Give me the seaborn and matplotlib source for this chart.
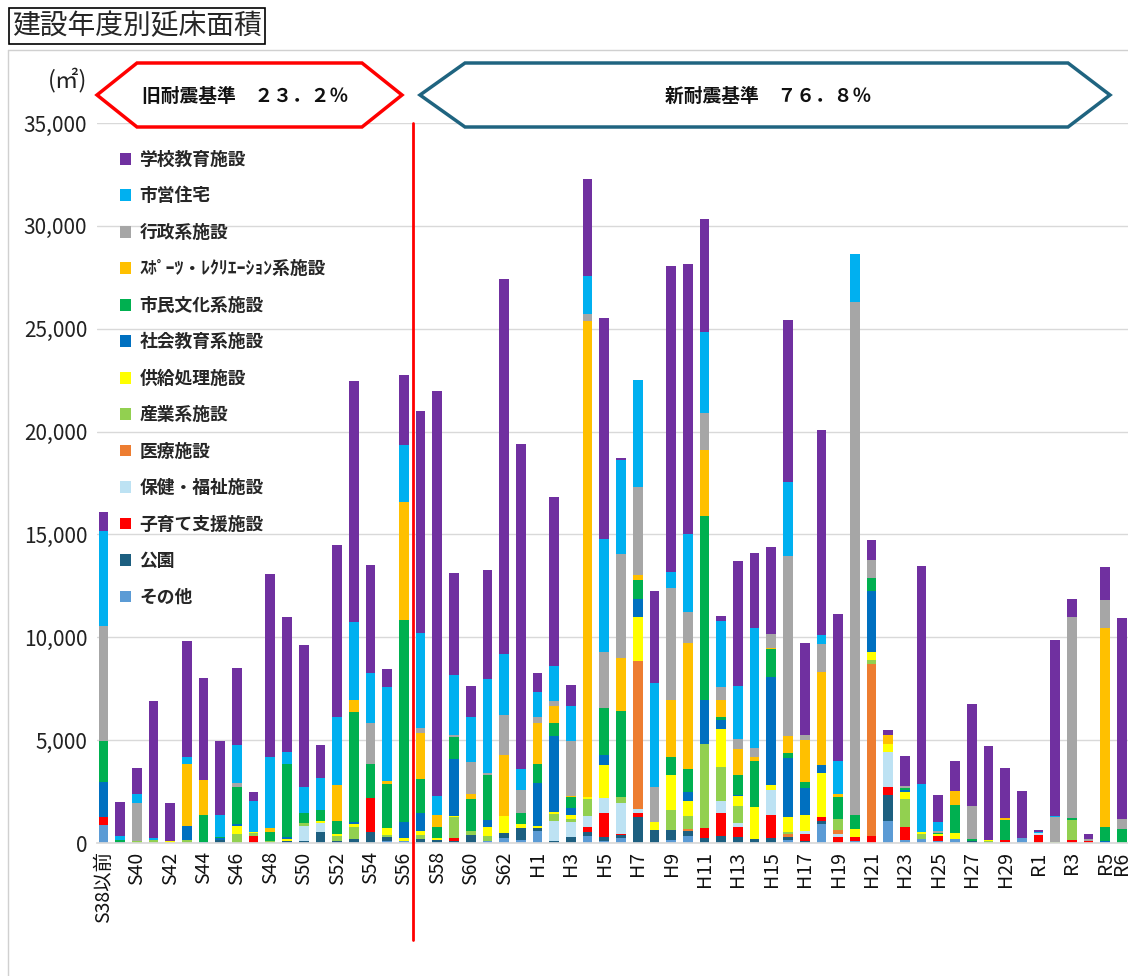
import matplotlib
matplotlib.use("Agg")
import matplotlib.pyplot as plt
from matplotlib.patches import Polygon, Patch
from matplotlib.lines import Line2D
from matplotlib.ticker import FuncFormatter
import seaborn as sns
import pandas as pd

years = ["S38以前", "S39", "S40", "S41", "S42", "S43", "S44", "S45", "S46", "S47",
         "S48", "S49", "S50", "S51", "S52", "S53", "S54", "S55", "S56", "S57",
         "S58", "S59", "S60", "S61", "S62", "S63", "H1", "H2", "H3", "H4",
         "H5", "H6", "H7", "H8", "H9", "H10", "H11", "H12", "H13", "H14",
         "H15", "H16", "H17", "H18", "H19", "H20", "H21", "H22", "H23", "H24",
         "H25", "H26", "H27", "H28", "H29", "H30", "R1", "R2", "R3", "R4",
         "R5", "R6"]

oth = [870,0,0,0,0,0,0,0,0,0, 0,0,0,0,0,0,0,80,100,0, 0,0,0,80,240,150,600,0,0,360,
       100,230,0,0,150,360,0,0,0,0, 0,150,0,920,0,100,0,1090,150,180, 100,190,0,0,60,230,0,0,0,0, 0,0]
park = [0,60,0,0,0,0,0,150,0,0, 0,100,100,520,80,200,550,200,0,190, 150,100,400,0,270,570,110,100,300,160,
        200,160,1250,630,500,210,240,360,310,200, 240,150,100,130,0,0,0,1250,0,0, 0,0,110,0,0,0,0,0,0,0, 0,0]
kid = [400,0,0,0,0,0,0,0,0,340, 0,0,0,0,0,0,1620,0,0,0, 0,160,0,0,0,0,0,0,0,240,
       1150,50,190,0,0,0,490,1080,450,0, 1120,0,360,190,270,200,320,370,615,0, 245,0,0,0,80,0,390,0,150,110, 0,0]
welf = [0,0,0,0,0,0,0,0,0,0, 0,0,730,470,0,0,0,0,0,0, 0,0,0,0,0,0,0,990,700,570,
        760,1490,210,0,0,0,0,610,210,0, 1210,0,110,0,160,0,0,1700,0,0, 0,0,0,0,0,0,80,0,0,0, 0,0]
med = [0,0,0,0,0,0,0,0,0,0, 0,0,0,0,0,0,0,0,0,0, 0,0,0,0,0,0,0,0,0,0,
       0,0,7200,0,0,110,0,0,0,0, 0,160,0,0,190,0,8400,0,0,0, 0,0,0,0,0,0,0,0,0,0, 0,0]
ind = [0,0,80,130,0,130,0,0,440,130, 110,0,130,0,280,570,0,110,0,190, 0,1000,200,280,0,0,0,310,160,810,
       0,290,0,0,940,650,4080,1650,840,0, 0,80,0,0,530,0,180,0,1375,275, 0,0,0,80,0,0,0,30,950,0, 0,0]
sup = [0,0,0,0,110,0,0,0,370,80, 0,110,0,100,80,130,0,320,150,210, 80,60,0,400,810,210,100,130,200,80,
       1570,0,2140,400,1700,730,0,1830,480,1570, 260,730,810,2140,0,370,390,400,325,80, 80,275,0,60,0,0,0,0,0,0, 0,0]
soc = [1700,0,0,0,0,700,65,100,110,0, 0,60,0,0,0,110,0,0,780,890, 0,2750,0,360,0,0,2090,3670,360,0,
       500,0,890,0,0,400,2150,470,50,0, 5260,2860,1310,420,0,0,2960,0,110,0, 0,0,0,0,0,0,0,0,0,0, 110,0]
cul = [1970,80,0,0,0,0,1300,65,1780,0, 440,3560,490,490,620,5370,1670,2180,9820,1650,
       530,1100,1540,2200,0,520,940,650,500,0, 2270,4210,890,0,890,1130,8930,130,950,2230,
       1330,240,275,0,1100,700,650,0,100,0, 80,1375,80,0,1000,0,0,0,100,0, 650,680]
spo = [0,0,0,0,0,3030,1710,0,0,0, 180,0,0,0,1780,580,0,110,5720,2230, 600,0,240,0,2960,0,1980,830,80,23150,
       0,2540,240,0,2750,6120,3220,825,1260,160, 50,810,2020,4530,110,0,0,440,0,0, 0,695,0,0,80,0,0,0,0,0, 9700,0]
adm = [5600,0,1860,0,0,0,0,0,240,0, 0,0,0,0,0,0,1970,0,0,240, 0,80,1540,80,1940,1130,290,200,2650,340,
       2740,5060,4290,1700,5470,1520,1770,630,485,450, 680,8790,275,1330,0,24920,855,0,110,0,
       80,0,1620,0,0,0,0,1210,9800,80, 1330,485]
hou = [4640,210,450,130,0,320,0,1040,1830,1500, 3430,570,1260,1590,3300,3800,2440,4580,2800,4600,
       920,2910,2220,4560,2990,1020,1210,1700,1700,1860, 5500,4580,5200,5060,760,3800,3940,3200,2590,5860,
       0,3560,0,440,1650,2360,0,0,0,2310, 450,0,0,0,0,0,80,80,0,0, 0,0]
sch = [890,1620,1260,6650,1850,5620,4940,3620,3740,450, 8900,6570,6900,1570,8330,11680,5260,890,3370,10820,
       19680,4950,1510,5290,18220,15800,950,8220,1020,4720, 10730,100,0,4440,14900,13100,5510,250,6070,3610,
       4250,7880,4465,9980,7140,0,955,240,1425,10600, 1280,1460,4935,4560,2440,2280,80,8530,880,240, 1630,9790]

# stacking order bottom -> top
layers = [
    ("その他", oth, "#5B9BD5"),
    ("公園", park, "#1D5F80"),
    ("子育て支援施設", kid, "#FF0000"),
    ("保健・福祉施設", welf, "#BDE2F3"),
    ("医療施設", med, "#ED7D31"),
    ("産業系施設", ind, "#92D050"),
    ("供給処理施設", sup, "#FFFF00"),
    ("社会教育系施設", soc, "#0070C0"),
    ("市民文化系施設", cul, "#00B050"),
    ("ｽﾎﾟｰﾂ・ﾚｸﾘｴｰｼｮﾝ系施設", spo, "#FFC000"),
    ("行政系施設", adm, "#A6A6A6"),
    ("市営住宅", hou, "#00B0F0"),
    ("学校教育施設", sch, "#7030A0"),
]

sns.set_theme(style="white")
plt.rcParams["font.family"] = ["Noto Sans CJK JP", "DejaVu Sans"]

W, H = 1128, 976
fig = plt.figure(figsize=(W / 100, H / 100), dpi=100)
fig.patch.set_facecolor("white")


def px(x, y):
    return (x / W, 1 - y / H)


ax = fig.add_axes([97 / W, 1 - 843 / H, (W - 97) / W, (843 - 123) / H])

cum = [0] * len(years)
cums = []
for name, vals, col in layers:
    cum = [c + v for c, v in zip(cum, vals)]
    cums.append((name, list(cum), col))

# draw from the tallest cumulative downwards so each layer shows its segment
for name, cvals, col in reversed(cums):
    d = pd.DataFrame({"year": years, "value": cvals})
    sns.barplot(data=d, x="year", y="value", order=years, color=col,
                saturation=1, width=0.58, linewidth=0, errorbar=None, ax=ax)

ax.set_xlim(-0.38, 61.36)
ax.set_ylim(0, 35000)
ax.set_yticks(range(0, 35001, 5000))
ax.yaxis.set_major_formatter(FuncFormatter(lambda v, p: f"{int(v):,}"))
ax.grid(axis="y", color="#D9D9D9", linewidth=1)
ax.grid(axis="x", visible=False)
ax.set_axisbelow(True)
for s in ["left", "right", "top"]:
    ax.spines[s].set_visible(False)
ax.spines["bottom"].set_color("#D9D9D9")
ax.set_xlabel("")
ax.set_ylabel("")
ax.tick_params(axis="y", length=0, pad=7, labelsize=15, labelcolor="#222222")
ticks_idx = list(range(0, 61, 2)) + [61]
ax.set_xticks(ticks_idx)
ax.set_xticklabels([years[i] for i in ticks_idx], rotation=90, fontsize=14,
                   va="top", ha="center")
ax.tick_params(axis="x", length=0, pad=6, labelcolor="#111111")

# divider line between old / new seismic standards
ax.plot([18.55, 18.55], [35000, -4700], color="#FF0000", linewidth=2,
        clip_on=False, zorder=5)

# legend
handles = [Patch(facecolor=col, edgecolor="none") for name, vals, col in reversed(layers)]
labels = [name for name, vals, col in reversed(layers)]
fig.legend(handles, labels, loc="upper left", bbox_to_anchor=px(111, 142),
           bbox_transform=fig.transFigure, frameon=False, borderpad=0,
           handlelength=0.65, handleheight=0.65, handletextpad=0.45,
           labelspacing=1.04, prop={"size": 12.8, "weight": "bold"})

# outer frame (top and left edges visible)
fig.add_artist(Line2D([8 / W, 1.0], [1 - 50 / H, 1 - 50 / H], transform=fig.transFigure,
                      color="#D0D0D0", linewidth=1))
fig.add_artist(Line2D([8 / W, 8 / W], [1 - 50 / H, 0.0], transform=fig.transFigure,
                      color="#D0D0D0", linewidth=1))

# title
fig.text(*px(12, 26), "建設年度別延床面積", fontsize=20, va="center", ha="left",
         bbox=dict(boxstyle="square,pad=0.12", facecolor="white",
                   edgecolor="black", linewidth=1.2))

# unit
fig.text(*px(68, 80), "(㎡)", fontsize=17, va="center", ha="center", color="#222222")

# banner shapes
red_pts = [px(97, 95), px(137, 63), px(362, 63), px(402, 95), px(362, 127), px(137, 127)]
fig.add_artist(Polygon(red_pts, closed=True, transform=fig.transFigure,
                       facecolor="white", edgecolor="#FF0000", linewidth=2.5))
fig.text(*px(245, 96), "旧耐震基準　２３．２％", fontsize=13.5, weight="bold",
         ha="center", va="center", color="#111111")

blue_pts = [px(420, 95), px(465, 63), px(1068, 63), px(1110, 95), px(1068, 127), px(465, 127)]
fig.add_artist(Polygon(blue_pts, closed=True, transform=fig.transFigure,
                       facecolor="white", edgecolor="#1F6480", linewidth=2.5))
fig.text(*px(768, 96), "新耐震基準　７６．８％", fontsize=13.5, weight="bold",
         ha="center", va="center", color="#111111")

fig.savefig("out.png", dpi=100, facecolor="white")
